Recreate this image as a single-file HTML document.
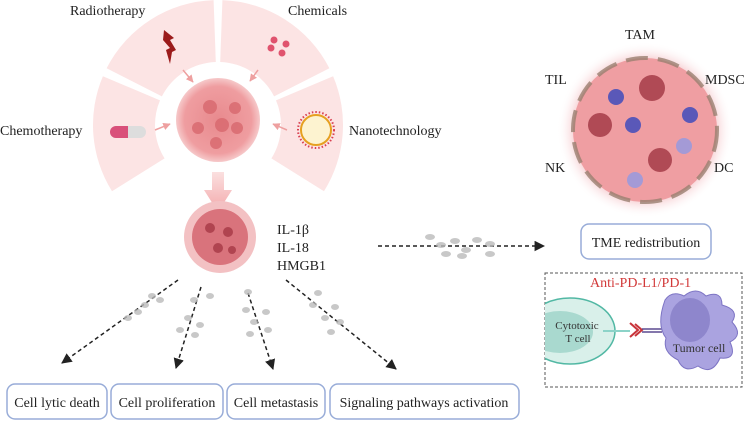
<!DOCTYPE html>
<html><head><meta charset="utf-8"><style>
html,body{margin:0;padding:0;background:#fff;}
svg{display:block;font-family:"Liberation Serif",serif;}
</style></head><body>
<svg width="749" height="423" viewBox="0 0 749 423" xmlns="http://www.w3.org/2000/svg">
<defs>
<radialGradient id="glow" cx="0.5" cy="0.5" r="0.5">
<stop offset="0.75" stop-color="#f3b8bd"/><stop offset="1" stop-color="#fff" stop-opacity="0"/>
</radialGradient>
<radialGradient id="tum" cx="0.5" cy="0.5" r="0.5">
<stop offset="0" stop-color="#e88a8e"/><stop offset="0.8" stop-color="#ef9da0"/><stop offset="1" stop-color="#f6c9ca"/>
</radialGradient>
<linearGradient id="down" x1="0" y1="0" x2="0" y2="1">
<stop offset="0" stop-color="#fbe0e0"/><stop offset="1" stop-color="#f3a8aa"/>
</linearGradient>
<marker id="ah" viewBox="0 0 10 10" refX="9" refY="5" markerWidth="7" markerHeight="7" orient="auto"><path d="M0,0 L10,5 L0,10 z" fill="#222"/></marker>
<marker id="pa" viewBox="0 0 10 10" refX="9" refY="5" markerWidth="5" markerHeight="5" orient="auto"><path d="M0,0 L10,5 L0,10 z" fill="#eea0a0"/></marker>
<clipPath id="bx"><rect x="545" y="273" width="197" height="114"/></clipPath>
</defs>

<g fill="#fce4e4">
<path d="M106.6,68.3 A125,125 0 0 1 213.6,0.1 L215.8,62 A63,63 0 0 0 161.9,96.4 Z"/>
<path d="M222.4,0.1 A125,125 0 0 1 329.4,68.3 L274.1,96.4 A63,63 0 0 0 220.2,62 Z"/>
<path d="M102.9,76.2 A125,125 0 0 0 112,191.2 L164.6,158.4 A63,63 0 0 1 160,100.4 Z"/>
<path d="M333.1,76.2 A125,125 0 0 1 324,191.2 L271.4,158.4 A63,63 0 0 0 276,100.4 Z"/>
</g>
<g font-size="14" fill="#222">
<text x="70" y="15">Radiotherapy</text>
<text x="288" y="15">Chemicals</text>
<text x="0" y="135">Chemotherapy</text>
<text x="349" y="135">Nanotechnology</text>
</g>
<path d="M164,30 L174,38 L170,40 L176,50 L172,52 L170,64 L166,50 L170,48 L163,40 Z" fill="#9b1b1b"/>
<g fill="#e0536e"><circle cx="274" cy="40" r="3.5"/><circle cx="286" cy="44" r="3.5"/><circle cx="271" cy="48" r="3.5"/><circle cx="282" cy="53" r="3.5"/></g>
<rect x="110" y="126" width="36" height="12" rx="6" fill="#ddd"/>
<path d="M116,126 H128 V138 H116 A6,6 0 0 1 116,126 Z" fill="#d9507a"/>
<circle cx="316" cy="130" r="15" fill="#fdf3d0" stroke="#e6a020" stroke-width="2"/>
<circle cx="316" cy="130" r="18" fill="none" stroke="#d94050" stroke-width="2" stroke-dasharray="1.5 2"/>
<g stroke="#eea0a0" stroke-width="1.5" marker-end="url(#pa)">
<line x1="183" y1="70" x2="193" y2="82"/><line x1="258" y1="70" x2="250" y2="81"/>
<line x1="155" y1="130" x2="170" y2="124"/><line x1="287" y1="130" x2="273" y2="124"/>
</g>
<circle cx="218" cy="120" r="42" fill="url(#tum)"/>
<g fill="#d8686e" opacity="0.8"><circle cx="210" cy="107" r="7"/><circle cx="235" cy="108" r="6"/><circle cx="198" cy="128" r="6"/><circle cx="222" cy="125" r="7"/><circle cx="237" cy="128" r="6"/><circle cx="216" cy="143" r="6"/></g>
<path d="M212,172 H224 V190 H232 L218,212 L204,190 H212 Z" fill="url(#down)"/>
<circle cx="220" cy="237" r="36" fill="#f3c1c3"/>
<circle cx="220" cy="237" r="28" fill="#d9737c"/>
<g fill="#b04450"><circle cx="210" cy="228" r="5"/><circle cx="228" cy="232" r="5"/><circle cx="218" cy="248" r="5"/><circle cx="232" cy="250" r="4"/></g>
<g font-size="14" fill="#222"><text x="277" y="234">IL-1β</text><text x="277" y="252">IL-18</text><text x="277" y="270">HMGB1</text></g>
<g stroke="#222" stroke-width="1.5" stroke-dasharray="4 3" fill="none" marker-end="url(#ah)">
<line x1="178" y1="280" x2="62" y2="363"/>
<line x1="201" y1="287" x2="176" y2="368"/>
<line x1="248" y1="293" x2="273" y2="369"/>
<line x1="286" y1="280" x2="396" y2="369"/>
<line x1="378" y1="246" x2="544" y2="246"/>
</g>
<g fill="#bbb" opacity="0.8">
<ellipse cx="430" cy="237" rx="5" ry="3"/><ellipse cx="441" cy="245" rx="5" ry="3"/><ellipse cx="455" cy="241" rx="5" ry="3"/><ellipse cx="466" cy="250" rx="5" ry="3"/><ellipse cx="477" cy="240" rx="5" ry="3"/><ellipse cx="490" cy="244" rx="5" ry="3"/><ellipse cx="446" cy="254" rx="5" ry="3"/><ellipse cx="462" cy="256" rx="5" ry="3"/><ellipse cx="490" cy="254" rx="5" ry="3"/>
<ellipse cx="152" cy="296" rx="4" ry="3"/><ellipse cx="160" cy="300" rx="4" ry="3"/><ellipse cx="145" cy="305" rx="4" ry="3"/><ellipse cx="138" cy="312" rx="4" ry="3"/><ellipse cx="128" cy="318" rx="4" ry="3"/>
<ellipse cx="194" cy="300" rx="4" ry="3"/><ellipse cx="210" cy="296" rx="4" ry="3"/><ellipse cx="188" cy="318" rx="4" ry="3"/><ellipse cx="200" cy="325" rx="4" ry="3"/><ellipse cx="180" cy="330" rx="4" ry="3"/><ellipse cx="195" cy="335" rx="4" ry="3"/>
<ellipse cx="248" cy="292" rx="4" ry="3"/><ellipse cx="246" cy="310" rx="4" ry="3"/><ellipse cx="266" cy="312" rx="4" ry="3"/><ellipse cx="254" cy="322" rx="4" ry="3"/><ellipse cx="250" cy="334" rx="4" ry="3"/><ellipse cx="268" cy="330" rx="4" ry="3"/>
<ellipse cx="318" cy="293" rx="4" ry="3"/><ellipse cx="313" cy="305" rx="4" ry="3"/><ellipse cx="335" cy="307" rx="4" ry="3"/><ellipse cx="325" cy="318" rx="4" ry="3"/><ellipse cx="340" cy="322" rx="4" ry="3"/><ellipse cx="331" cy="332" rx="4" ry="3"/>
</g>
<g fill="#fff" stroke="#98acd8" stroke-width="1.5">
<rect x="7" y="384" width="100" height="35" rx="8"/>
<rect x="111" y="384" width="112" height="35" rx="8"/>
<rect x="227" y="384" width="98" height="35" rx="8"/>
<rect x="330" y="384" width="189" height="35" rx="8"/>
<rect x="581" y="224" width="130" height="35" rx="8"/>
</g>
<g font-size="14" fill="#222" text-anchor="middle">
<text x="57" y="407">Cell lytic death</text>
<text x="167" y="407">Cell proliferation</text>
<text x="276" y="407">Cell metastasis</text>
<text x="424" y="407">Signaling pathways activation</text>
<text x="646" y="247">TME redistribution</text>
</g>
<circle cx="645" cy="130" r="88" fill="url(#glow)"/>
<circle cx="645" cy="130" r="72" fill="#ef9ea2"/>
<g fill="#b04a55"><circle cx="652" cy="88" r="13"/><circle cx="600" cy="125" r="12"/><circle cx="660" cy="160" r="12"/></g>
<g fill="#5a58b8"><circle cx="616" cy="97" r="8"/><circle cx="633" cy="125" r="8"/><circle cx="690" cy="115" r="8"/></g>
<g fill="#a49ad6"><circle cx="684" cy="146" r="8"/><circle cx="635" cy="180" r="8"/></g>
<circle cx="645" cy="130" r="72" fill="none" stroke="#9a8070" stroke-width="4" stroke-dasharray="22 10" opacity="0.8"/>
<g font-size="14" fill="#222">
<text x="625" y="39">TAM</text><text x="545" y="84">TIL</text><text x="705" y="84">MDSC</text>
<text x="545" y="172">NK</text><text x="714" y="172">DC</text>
</g>
<rect x="545" y="273" width="197" height="114" fill="none" stroke="#555" stroke-width="1" stroke-dasharray="3 2"/>
<text x="590" y="287" font-size="14" fill="#d23a3a">Anti-PD-L1/PD-1</text>
<g clip-path="url(#bx)">
<ellipse cx="570" cy="331" rx="45" ry="33" fill="#d9f0ea" stroke="#52b8a4" stroke-width="1.5"/>
<ellipse cx="560" cy="332" rx="33" ry="21" fill="#a9d9cf"/>
</g>
<text x="577" y="329" font-size="11" fill="#333" text-anchor="middle">Cytotoxic</text>
<text x="578" y="342" font-size="11" fill="#333" text-anchor="middle">T cell</text>
<line x1="603" y1="331" x2="630" y2="331" stroke="#8cd3c8" stroke-width="2"/>
<path d="M630,323 L638,330 L630,337 M635,324 L642,330 L635,336" stroke="#c8333a" stroke-width="2" fill="none"/>
<line x1="642" y1="329" x2="662" y2="329" stroke="#5c4a90" stroke-width="1.5"/>
<line x1="642" y1="332" x2="662" y2="332" stroke="#5c4a90" stroke-width="1.5"/>
<path d="M665,300 Q672,290 684,296 Q696,286 706,296 Q722,290 722,305 Q740,310 732,322 Q744,335 730,342 Q738,360 720,358 Q712,376 698,366 Q684,374 678,360 Q662,352 666,338 Q656,325 665,300 Z" fill="#aaa3e0" stroke="#7d74c4" stroke-width="1"/>
<ellipse cx="690" cy="320" rx="20" ry="22" fill="#8e86cc"/>
<text x="699" y="352" font-size="12" fill="#333" text-anchor="middle">Tumor cell</text>
</svg>
</body></html>
